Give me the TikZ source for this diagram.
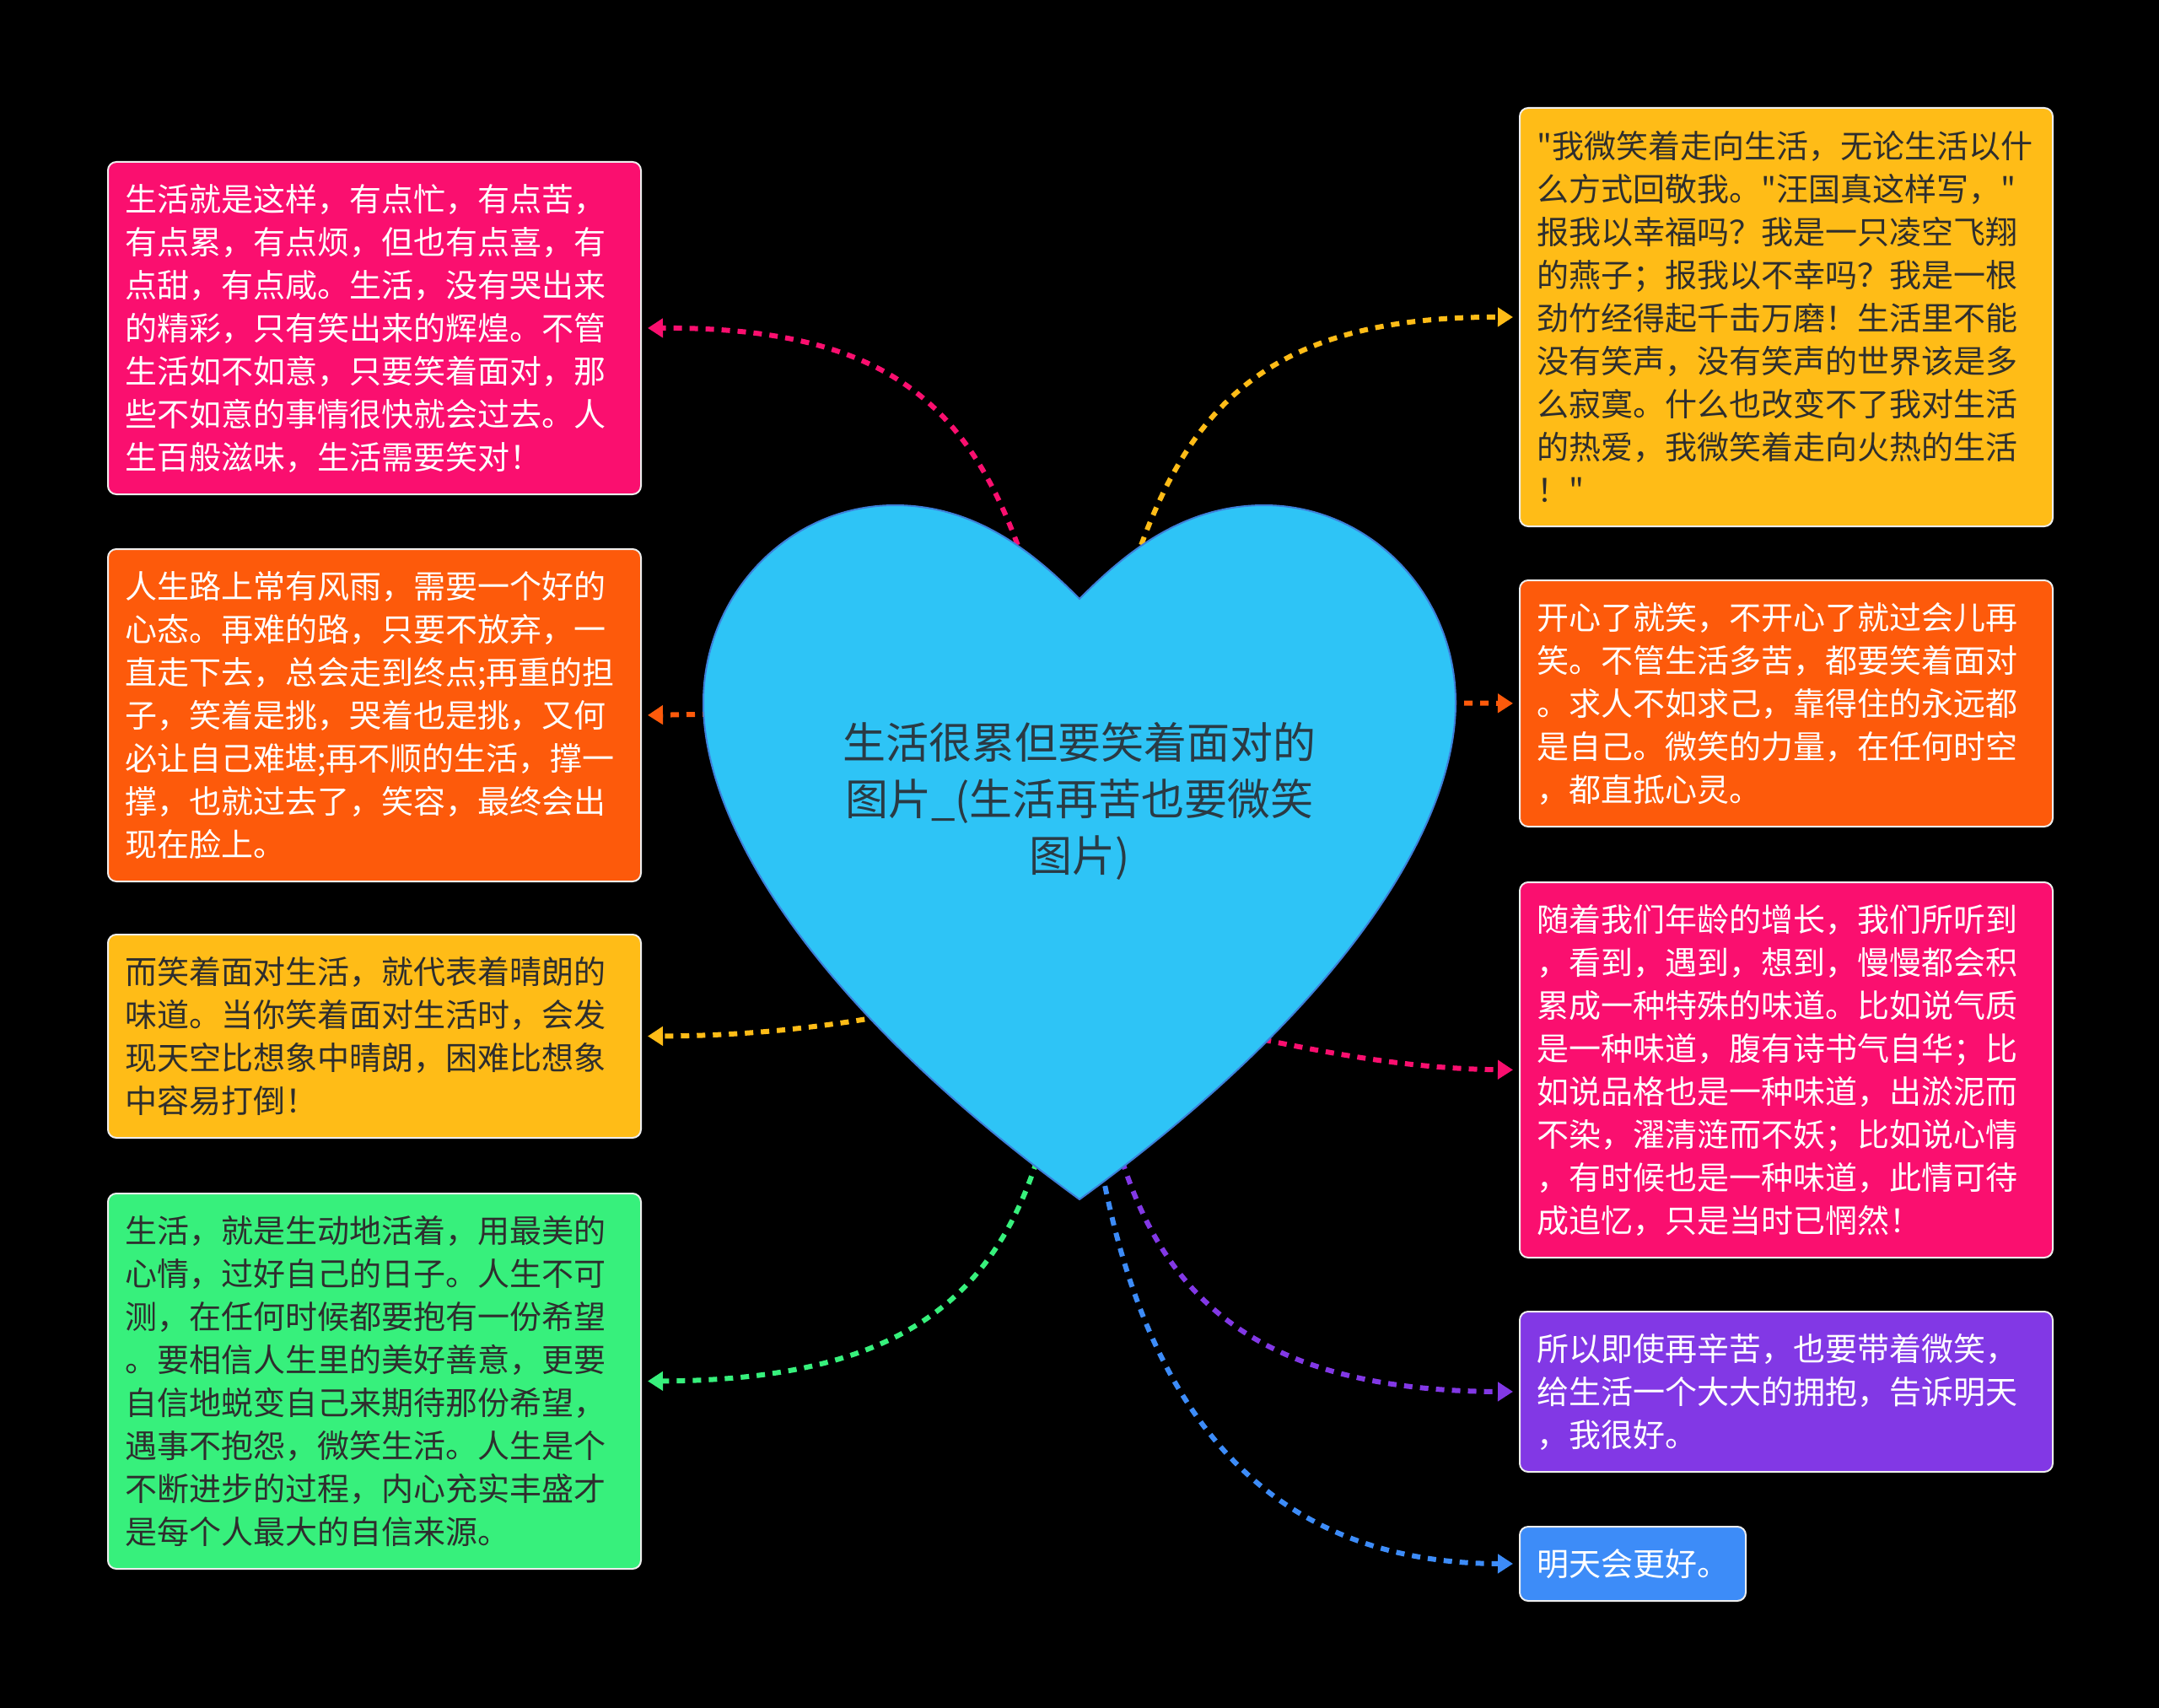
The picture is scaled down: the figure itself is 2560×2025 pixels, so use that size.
\documentclass[tikz,border=0pt]{standalone}
\usepackage{fontspec}
\setmainfont{Noto Sans CJK SC}
\newfontfamily\cjkfont{Noto Sans CJK SC}
\usetikzlibrary{arrows.meta}
\definecolor{cpink}{HTML}{FA0F6F}
\definecolor{corange}{HTML}{FD5A0B}
\definecolor{cyellow}{HTML}{FFBC17}
\definecolor{cgreen}{HTML}{37F07C}
\definecolor{cpurple}{HTML}{8238E5}
\definecolor{cblue}{HTML}{3D8CF8}
\definecolor{heartfill}{HTML}{2EC4F6}
\definecolor{heartedge}{HTML}{3D7FD9}
\definecolor{hearttext}{HTML}{2A3A44}
\definecolor{darktext}{HTML}{2E2E2E}
\definecolor{boxedge}{HTML}{EDEDED}
\begin{document}
\begin{tikzpicture}[x=1pt,y=-1pt,
  box/.style={draw=boxedge,line width=2pt,rounded corners=10pt,anchor=north west,
    inner xsep=20pt,inner ysep=0pt,text width=592pt,align=left,
    font=\cjkfont\fontsize{38}{51}\selectfont},
  conn/.style={line width=6pt,dash pattern=on 10pt off 9pt,
    -{Triangle[length=18pt,width=22pt]},shorten >=7pt}]
\fill[black] (0,0) rectangle (2560,2025);
\useasboundingbox (0,0) rectangle (2560,2025);

% left boxes
\node[box,fill=cpink,text=white,minimum height=394pt] (lb1) at (127,191)
{生活就是这样，有点忙，有点苦，\\有点累，有点烦，但也有点喜，有\\点甜，有点咸。生活，没有哭出来\\的精彩，只有笑出来的辉煌。不管\\生活如不如意，只要笑着面对，那\\些不如意的事情很快就会过去。人\\生百般滋味，生活需要笑对！};
\node[box,fill=corange,text=white,minimum height=394pt] (lb2) at (127,650)
{人生路上常有风雨，需要一个好的\\心态。再难的路，只要不放弃，一\\直走下去，总会走到终点;再重的担\\子，笑着是挑，哭着也是挑，又何\\必让自己难堪;再不顺的生活，撑一\\撑，也就过去了，笑容，最终会出\\现在脸上。};
\node[box,fill=cyellow,text=darktext,minimum height=241pt] (lb3) at (127,1107)
{而笑着面对生活，就代表着晴朗的\\味道。当你笑着面对生活时，会发\\现天空比想象中晴朗，困难比想象\\中容易打倒！};
\node[box,fill=cgreen,text=darktext,minimum height=445pt] (lb4) at (127,1414)
{生活，就是生动地活着，用最美的\\心情，过好自己的日子。人生不可\\测，在任何时候都要抱有一份希望\\。要相信人生里的美好善意，更要\\自信地蜕变自己来期待那份希望，\\遇事不抱怨，微笑生活。人生是个\\不断进步的过程，内心充实丰盛才\\是每个人最大的自信来源。};

% right boxes
\node[box,fill=cyellow,text=darktext,minimum height=496pt] (rb1) at (1801,127)
{"我微笑着走向生活，无论生活以什\\么方式回敬我。"汪国真这样写，"\\报我以幸福吗？我是一只凌空飞翔\\的燕子；报我以不幸吗？我是一根\\劲竹经得起千击万磨！生活里不能\\没有笑声，没有笑声的世界该是多\\么寂寞。什么也改变不了我对生活\\的热爱，我微笑着走向火热的生活\\！"};
\node[box,fill=corange,text=white,minimum height=292pt] (rb2) at (1801,687)
{开心了就笑，不开心了就过会儿再\\笑。不管生活多苦，都要笑着面对\\。求人不如求己，靠得住的永远都\\是自己。微笑的力量，在任何时空\\，都直抵心灵。};
\node[box,fill=cpink,text=white,minimum height=445pt] (rb3) at (1801,1045)
{随着我们年龄的增长，我们所听到\\，看到，遇到，想到，慢慢都会积\\累成一种特殊的味道。比如说气质\\是一种味道，腹有诗书气自华；比\\如说品格也是一种味道，出淤泥而\\不染，濯清涟而不妖；比如说心情\\，有时候也是一种味道，此情可待\\成追忆，只是当时已惘然！};
\node[box,fill=cpurple,text=white,minimum height=190pt] (rb4) at (1801,1554)
{所以即使再辛苦，也要带着微笑，\\给生活一个大大的拥抱，告诉明天\\，我很好。};
\node[box,fill=cblue,text=white,minimum height=88pt,text width=228pt] (rb5) at (1801,1809)
{明天会更好。};

% connector start points (hidden under the heart)
\coordinate (s1) at (1225,700);
\coordinate (s2) at (900,846);
\coordinate (s3) at (1100,1195);
\coordinate (s4) at (1240,1340);
\coordinate (r1) at (1335,700);
\coordinate (r2) at (1660,833);
\coordinate (r3) at (1460,1225);
\coordinate (r4) at (1320,1340);
\coordinate (r5) at (1300,1350);

\draw[conn,cpink] (s1) .. controls (1160,490) and (1067,388) .. (lb1.east);
\draw[conn,corange] (s2) -- (lb2.east);
\draw[conn,cyellow] (s3) .. controls (1000,1215) and (900,1228) .. (lb3.east);
\draw[conn,cgreen] (s4) .. controls (1190,1530) and (1080,1636) .. (lb4.east);
\draw[conn,cyellow] (r1) .. controls (1400,490) and (1493,375) .. (rb1.west);
\draw[conn,corange] (r2) -- (rb2.west);
\draw[conn,cpink] (r3) .. controls (1560,1245) and (1660,1267) .. (rb3.west);
\draw[conn,cpurple] (r4) .. controls (1370,1530) and (1480,1649) .. (rb4.west);
\draw[conn,cblue] (r5) .. controls (1340,1600) and (1450,1853) .. (rb5.west);

% heart
\path[fill=heartfill,draw=heartedge,line width=2pt]
  (1280,710) .. controls (1330,660) and (1399,599) .. (1499,599)
  .. controls (1624,599) and (1726,704) .. (1726,833)
  .. controls (1726,983) and (1588,1198) .. (1280,1422)
  .. controls (972,1198) and (834,983) .. (834,833)
  .. controls (834,704) and (936,599) .. (1061,599)
  .. controls (1161,599) and (1230,660) .. (1280,710) -- cycle;
\node[font=\cjkfont\fontsize{51}{67}\selectfont,text=hearttext,align=center] (root) at (1280,950)
{生活很累但要笑着面对的\\图片\_(生活再苦也要微笑\\图片)};
\end{tikzpicture}
\end{document}
